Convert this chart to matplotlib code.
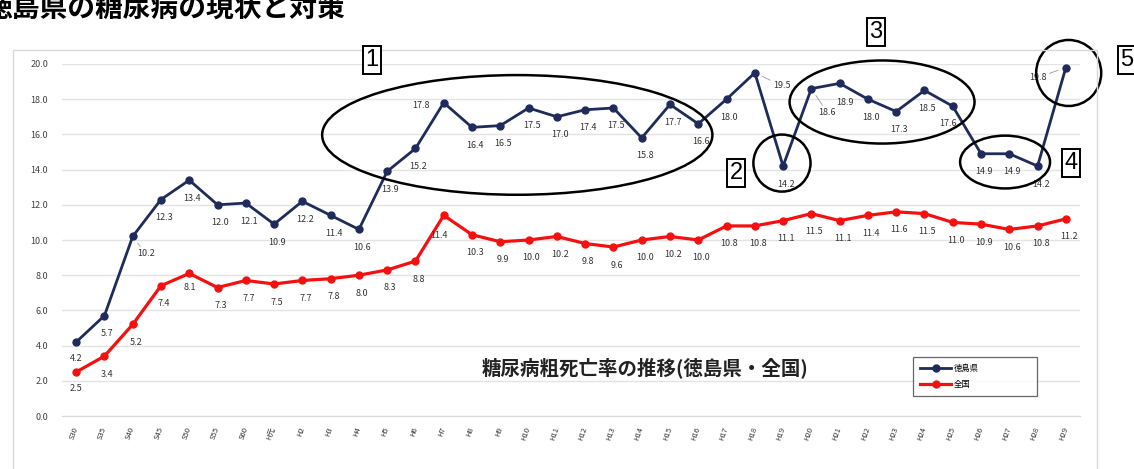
"""徳島県 糖尿病粗死亡率の推移 (徳島県・全国) 再現チャート."""
import matplotlib
matplotlib.use("Agg")
import matplotlib.pyplot as plt
from matplotlib.patches import Ellipse, Rectangle

plt.rcParams["font.family"] = ["Noto Sans CJK JP", "DejaVu Sans"]
plt.rcParams["axes.unicode_minus"] = False

W, H = 1134, 469

years = ["S30", "S35", "S40", "S45", "S50", "S55", "S60", "H元", "H2", "H3", "H4",
         "H5", "H6", "H7", "H8", "H9", "H10", "H11", "H12", "H13", "H14", "H15",
         "H16", "H17", "H18", "H19", "H20", "H21", "H22", "H23", "H24", "H25",
         "H26", "H27", "H28", "H29"]
tokushima = [4.2, 5.7, 10.2, 12.3, 13.4, 12.0, 12.1, 10.9, 12.2, 11.4, 10.6,
             13.9, 15.2, 17.8, 16.4, 16.5, 17.5, 17.0, 17.4, 17.5, 15.8, 17.7,
             16.6, 18.0, 19.5, 14.2, 18.6, 18.9, 18.0, 17.3, 18.5, 17.6,
             14.9, 14.9, 14.2, 19.8]
zenkoku = [2.5, 3.4, 5.2, 7.4, 8.1, 7.3, 7.7, 7.5, 7.7, 7.8, 8.0,
           8.3, 8.8, 11.4, 10.3, 9.9, 10.0, 10.2, 9.8, 9.6, 10.0, 10.2,
           10.0, 10.8, 10.8, 11.1, 11.5, 11.1, 11.4, 11.6, 11.5, 11.0,
           10.9, 10.6, 10.8, 11.2]

NAVY = "#1f2b5b"
RED = "#f51010"
LABEL_C = "#333333"


def px(x, y):
    """画像ピクセル座標 -> figure 座標"""
    return x / W, 1 - y / H


fig = plt.figure(figsize=(W / 100, H / 100), dpi=100)
fig.patch.set_facecolor("white")

# グラフの外枠 (薄いグレー)
x0, y0 = px(13, 50)
x1, y1 = px(1097, 480)
fig.patches.append(Rectangle((x0, y1), x1 - x0, y0 - y1, transform=fig.transFigure,
                             fill=False, edgecolor="#d9d9d9", lw=1.0))

l, t = px(62, 64)
r, b = px(1080, 416)
ax = fig.add_axes([l, b, r - l, t - b])
xs = range(len(years))

ax.plot(xs, tokushima, "-o", color=NAVY, lw=2.0, ms=5, label="徳島県", zorder=3)
ax.plot(xs, zenkoku, "-o", color=RED, lw=2.3, ms=5, label="全国", zorder=3)

ax.set_xlim(-0.5, len(years) - 0.5)
ax.set_ylim(0, 20)
ax.set_yticks([i * 2.0 for i in range(11)])
ax.set_yticklabels([f"{i * 2.0:.1f}" for i in range(11)], fontsize=6.5, color="#404040")
ax.set_xticks(list(xs))
ax.set_xticklabels(years, fontsize=5.5, color="#333333", rotation=70,
                   ha="right", va="center", rotation_mode="anchor")
ax.tick_params(axis="both", length=0)
ax.tick_params(axis="y", pad=10)
ax.tick_params(axis="x", pad=8)
ax.grid(axis="y", color="#e3e3e3", lw=1.0)
ax.set_axisbelow(True)
for s in ["top", "right", "left"]:
    ax.spines[s].set_visible(False)
ax.spines["bottom"].set_color("#d9d9d9")
ax.patch.set_alpha(0)

# データラベル (ピクセルオフセット, 既定は点の下)
tk_off = {2: (13, -17), 13: (-23, -3), 24: (27, -13), 26: (16, -24), 27: (5, -19),
          31: (-5, -17), 35: (-28, -10), 0: (0, -16)}
tk_leader = {2, 24, 26, 35}
for i, v in enumerate(tokushima):
    dx, dy = tk_off.get(i, (3, -18))
    ax.annotate(f"{v:.1f}", (i, v), textcoords="offset pixels", xytext=(dx, dy),
                ha="center", va="center", fontsize=6.5, color=LABEL_C, zorder=4,
                arrowprops=dict(arrowstyle="-", color="#999999", lw=0.6,
                                shrinkA=0, shrinkB=6) if i in tk_leader else None)
zk_off = {0: (0, -16), 4: (1, -14), 13: (-5, -20)}
for i, v in enumerate(zenkoku):
    dx, dy = zk_off.get(i, (3, -18))
    ax.annotate(f"{v:.1f}", (i, v), textcoords="offset pixels", xytext=(dx, dy),
                ha="center", va="center", fontsize=6.5, color=LABEL_C, zorder=4)

# 丸囲み (データ座標: 中心x, 中心y, 幅, 高さ)
rings = [(15.6, 15.97, 13.8, 6.8), (24.96, 14.37, 2.02, 3.24),
         (28.5, 17.84, 6.54, 4.72), (32.85, 14.43, 3.18, 3.0),
         (35.1, 19.49, 2.3, 3.75)]
for cx, cy, w, h in rings:
    ax.add_patch(Ellipse((cx, cy), w, h, fill=False, edgecolor="black", lw=1.8,
                         clip_on=False, zorder=5))

# 番号ボックス
for num, (bx, by) in zip("12345", [(372, 60), (736, 173), (876, 32), (1071, 163), (1127, 60)]):
    fx, fy = px(bx, by)
    fig.text(fx, fy, num, ha="center", va="center", fontsize=17,
             family=["Liberation Sans", "DejaVu Sans"],
             bbox=dict(boxstyle="square,pad=0.12", fc="white", ec="black", lw=1.4),
             zorder=6)

# 凡例 (幅を広げる)
lx, ly = px(913, 396)
lx2, ly2 = px(1037, 356)
leg = ax.legend(loc="lower left", bbox_to_anchor=(lx, ly, lx2 - lx, ly2 - ly),
                bbox_transform=fig.transFigure, mode="expand",
                fontsize=6, frameon=True, fancybox=False, edgecolor="#404040",
                handlelength=3.8, borderpad=0.8, labelspacing=0.9, handletextpad=0.3,
                borderaxespad=0)
leg.get_frame().set_linewidth(0.9)

# グラフタイトル
tx, ty = px(645, 368)
fig.text(tx, ty, "糖尿病粗死亡率の推移(徳島県・全国)", ha="center", va="center",
         fontsize=14, fontweight="bold", color="#222222")

# ページタイトル (左端が切れている)
px0, py0 = px(-15, 9)
fig.text(px0, py0, "徳島県の糖尿病の現状と対策", ha="left", va="center",
         fontsize=20, fontweight="bold", color="black")

fig.savefig("out.png", dpi=100)
print("saved out.png")
